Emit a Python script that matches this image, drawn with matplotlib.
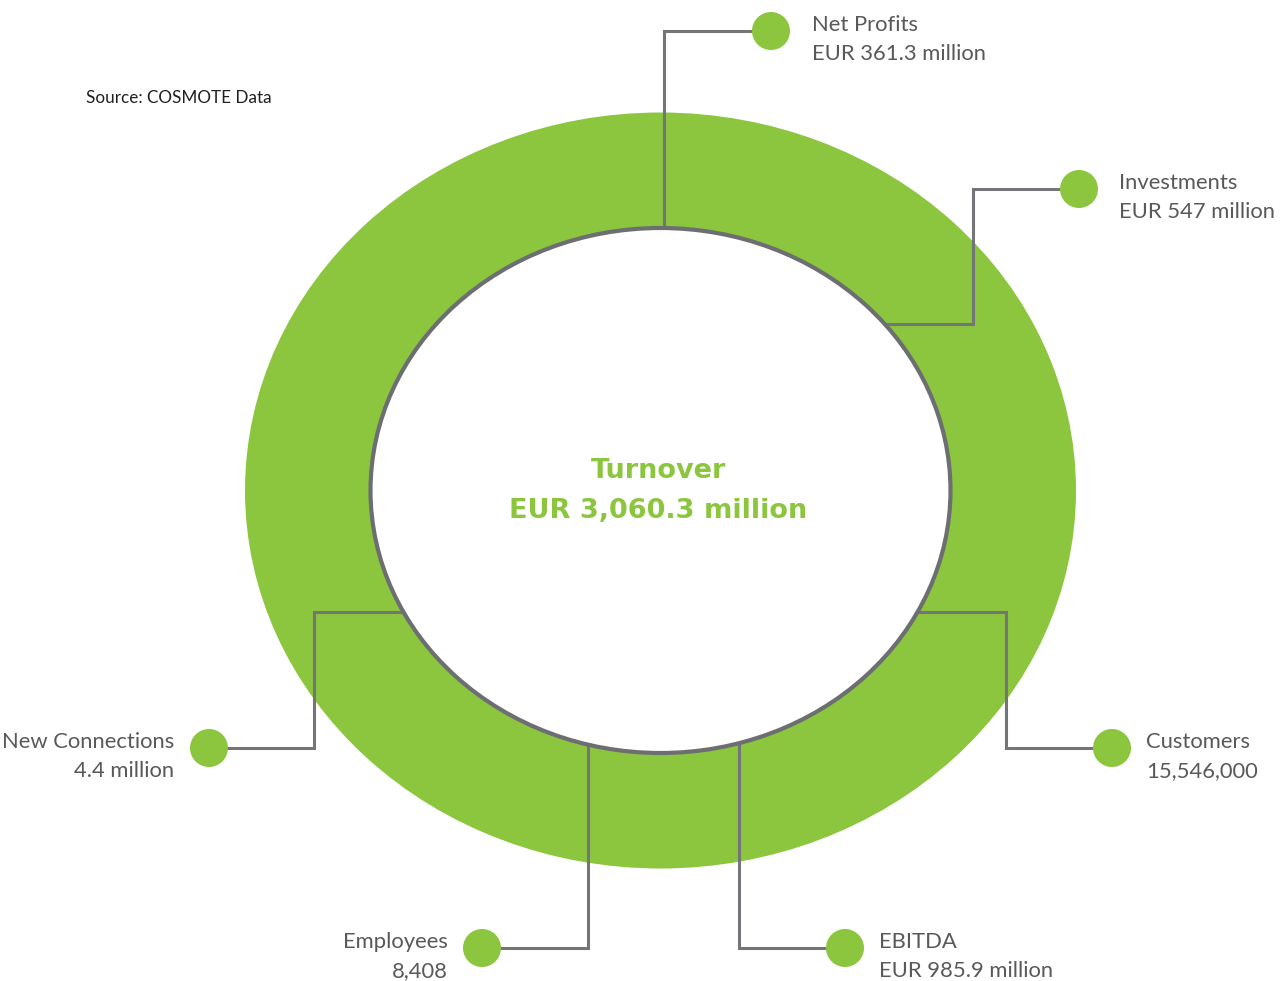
import matplotlib
matplotlib.use("Agg")
import matplotlib.pyplot as plt
from matplotlib.patches import Ellipse, Circle

# --- data ---
labels = ["Net Profits", "Investments", "Customers", "EBITDA", "Employees", "New Connections"]
values = ["EUR 361.3 million", "EUR 547 million", "15,546,000",
          "EUR 985.9 million", "8,408", "4.4 million"]
center_title = "Turnover"
center_value = "EUR 3,060.3 million"
source_note = "Source: COSMOTE Data"

# --- layout (pixel coords, y down) ---
W, H = 1283, 981
cx, cy = 660.5, 490.5
outer_a, outer_b = 415.5, 378
inner_a, inner_b = 290, 262.5

# connector: axis of first segment, fixed coord, side of ring, elbows, dot centre, text x, align
# 'x' means the first segment is vertical at that x, 'y' means horizontal at that y
connectors = [
    ("x", 664, -1, [(664, 31)], (771, 31), 812, "left"),
    ("y", 324, 1, [(973, 324), (973, 189)], (1079, 189), 1119, "left"),
    ("y", 612, 1, [(1006, 612), (1006, 748)], (1112, 748), 1146, "left"),
    ("x", 739, 1, [(739, 948)], (845, 948), 879, "left"),
    ("x", 588, 1, [(588, 948)], (482, 948), 448, "right"),
    ("y", 612, -1, [(314, 612), (314, 748)], (209, 748), 174, "right"),
]

GREEN = "#8cc63f"
GREY_LINE = "#747578"
GREY_TEXT = "#58595b"
FONT = ["Lato", "DejaVu Sans"]


def inner_edge(axis, v, side):
    if axis == "x":
        t = ((v - cx) / inner_a) ** 2
        return (v, cy + side * inner_b * (1 - t) ** 0.5)
    t = ((v - cy) / inner_b) ** 2
    return (cx + side * inner_a * (1 - t) ** 0.5, v)


fig = plt.figure(figsize=(W / 100, H / 100), dpi=100)
ax = fig.add_axes([0, 0, 1, 1])
ax.set_xlim(0, W)
ax.set_ylim(H, 0)
ax.set_aspect("equal")
ax.axis("off")

ax.add_patch(Ellipse((cx, cy), 2 * outer_a, 2 * outer_b, facecolor=GREEN,
                     edgecolor="none", zorder=1))
ax.add_patch(Ellipse((cx, cy), 2 * inner_a, 2 * inner_b, facecolor="white",
                     edgecolor="#6d6e71", lw=3, zorder=3))

for (axis, v, side, elbows, dot, tx, ha), name, val in zip(connectors, labels, values):
    pts = [inner_edge(axis, v, side)] + elbows + [dot]
    xs, ys = zip(*pts)
    ax.plot(xs, ys, color=GREY_LINE, lw=2.2, solid_joinstyle="miter",
            solid_capstyle="butt", zorder=2)
    ax.add_patch(Circle(dot, 19, facecolor=GREEN, edgecolor="none", zorder=4))
    ax.text(tx, dot[1], name, ha=ha, va="baseline", fontsize=15.8,
            color=GREY_TEXT, family=FONT)
    ax.text(tx, dot[1] + 29, val, ha=ha, va="baseline", fontsize=15.8,
            color=GREY_TEXT, family=FONT)

CFONT = ["DejaVu Sans"]
ax.text(cx - 2, 478, center_title, ha="center", va="baseline", fontsize=19.5,
        fontweight="bold", color=GREEN, family=CFONT, zorder=5)
ax.text(cx - 2, 518, center_value, ha="center", va="baseline", fontsize=19.5,
        fontweight="bold", color=GREEN, family=CFONT, zorder=5)

ax.text(86, 103, source_note, ha="left", va="baseline", fontsize=12.3,
        color="#231f20", family=FONT)

fig.savefig("out.png", dpi=100)
